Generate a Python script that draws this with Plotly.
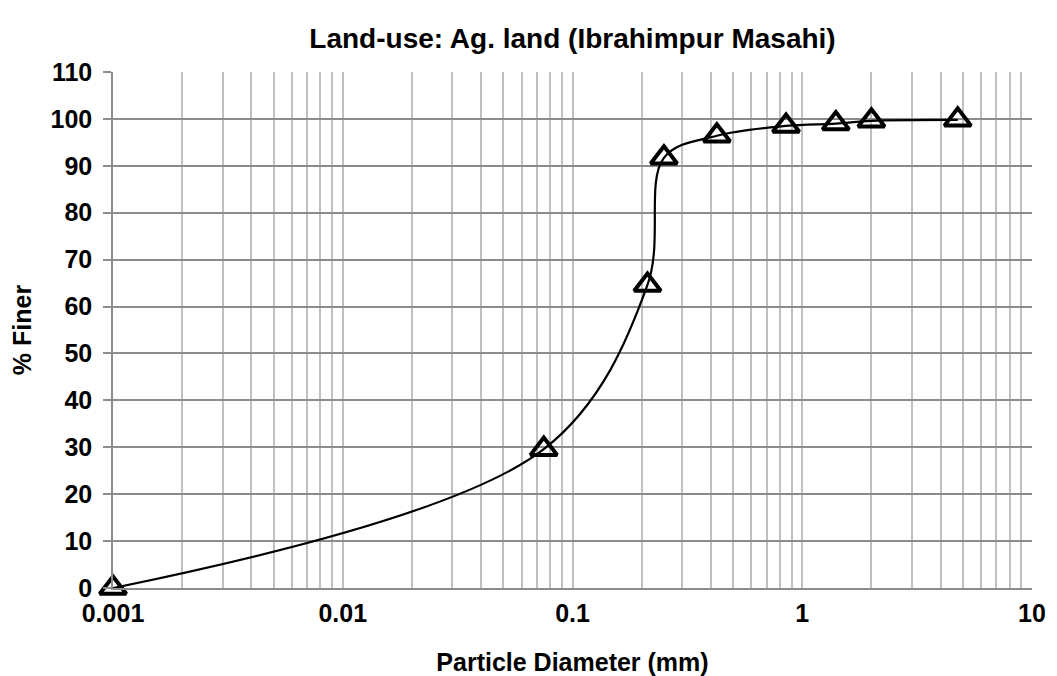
import plotly.graph_objects as go

diameter_mm = [0.001, 0.075, 0.212, 0.25, 0.425, 0.85, 1.4, 2.0, 4.75]
percent_finer = [0, 29.6, 64.6, 91.7, 96.4, 98.5, 99.0, 99.6, 99.8]

x_grid_vals = [m * 10 ** e for e in range(-3, 1) for m in range(1, 10)] + [10]
x_major_labels = {0.001: "0.001", 0.01: "0.01", 0.1: "0.1", 1: "1", 10: "10"}
x_grid_text = [x_major_labels.get(round(v, 6), "") for v in x_grid_vals]

FONT = "Liberation Sans, Arial, sans-serif"

fig = go.Figure()
fig.add_trace(
    go.Scatter(
        x=diameter_mm,
        y=percent_finer,
        mode="lines+markers",
        line=dict(color="black", width=2.2, shape="spline", smoothing=1),
        marker=dict(
            symbol="triangle-up-open",
            size=23,
            color="black",
            line=dict(width=4, color="black"),
        ),
        cliponaxis=False,
        showlegend=False,
    )
)

# page body has an 8px margin, so the figure is a bit smaller than the window
fig.update_layout(
    width=1049,
    height=668,
    paper_bgcolor="white",
    plot_bgcolor="white",
    margin=dict(l=105, r=25, t=64, b=88),
    title=dict(
        text="<b>Land-use: Ag. land (Ibrahimpur Masahi)</b>",
        x=0.5,
        xanchor="center",
        xref="paper",
        y=0.955,
        yanchor="middle",
        font=dict(family=FONT, size=28, color="black"),
    ),
    font=dict(family=FONT, color="black"),
)

fig.update_xaxes(
    type="log",
    range=[-3, 1],
    tickvals=x_grid_vals,
    ticktext=["<b>" + t + "</b>" if t else "" for t in x_grid_text],
    tickfont=dict(family=FONT, size=25, color="black"),
    ticklabelstandoff=2,
    showgrid=True,
    gridcolor="#c0c0c0",
    gridwidth=1.5,
    ticks="",
    showline=True,
    linecolor="#8c8c8c",
    linewidth=1.5,
    zeroline=False,
    automargin=False,
    title=dict(
        text="<b>Particle Diameter (mm)</b>",
        font=dict(family=FONT, size=25, color="black"),
        standoff=28,
    ),
)

fig.update_yaxes(
    range=[0, 110],
    dtick=10,
    tickformat="d",
    tickprefix="<b>",
    ticksuffix="</b>",
    tickfont=dict(family=FONT, size=25, color="black"),
    ticklabelstandoff=6,
    showgrid=True,
    gridcolor="#8c8c8c",
    gridwidth=1.5,
    ticks="outside",
    ticklen=8,
    tickcolor="#8c8c8c",
    tickwidth=1.5,
    showline=True,
    linecolor="#8c8c8c",
    linewidth=1.5,
    zeroline=False,
    automargin=False,
    title=dict(
        text="<b>% Finer</b>",
        font=dict(family=FONT, size=25, color="black"),
        standoff=14,
    ),
)

fig.write_html("out.html")
